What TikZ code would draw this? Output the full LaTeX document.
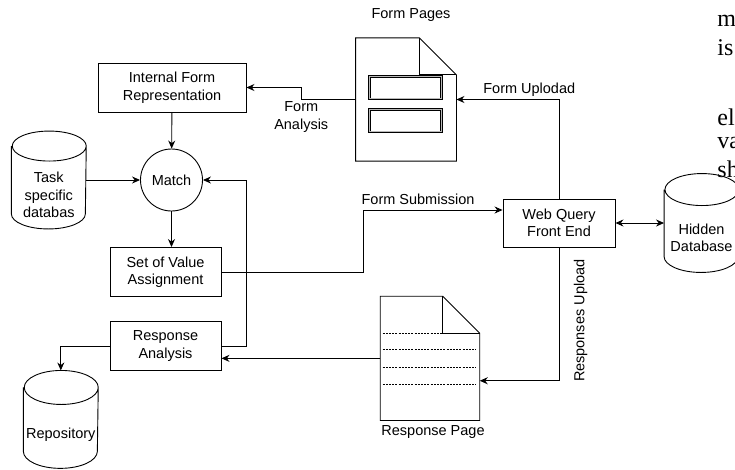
\documentclass[tikz,border=0pt]{standalone}
\usepackage{fontspec}
\setmainfont{Liberation Serif}
\setsansfont{Liberation Sans}
\usetikzlibrary{positioning, arrows.meta}

\newcommand{\diagfont}{\sffamily\fontsize{14.5}{17.5}\selectfont}

% cylinder outline round a node: node, x radius, y radius
\newcommand{\drawdb}[3]{%
  \draw ([yshift=-#3pt]#1.north west) -- ([yshift=#3pt]#1.south west)
    arc[start angle=180, end angle=360, x radius=#2, y radius=#3]
    -- ([yshift=-#3pt]#1.north east)
    arc[start angle=0, end angle=180, x radius=#2, y radius=#3]
    arc[start angle=180, end angle=360, x radius=#2, y radius=#3];
}
% page with folded corner round a node: node, fold
\newcommand{\drawpage}[2]{%
  \draw (#1.south west) -- (#1.north west) -- ([xshift=-#2pt]#1.north east)
    -- ([yshift=-#2pt]#1.north east) -- (#1.south east) -- cycle;
  \draw ([xshift=-#2pt]#1.north east) |- ([yshift=-#2pt]#1.north east);
}

\begin{document}
\begin{tikzpicture}[
    x=1pt, y=1pt,
    >={Stealth[length=8pt, width=7pt]},
    line width=0.9pt,
    box/.style={draw, minimum width=111pt, minimum height=49pt, inner sep=0pt,
                font=\diagfont, align=center},
    dbase/.style={minimum width=74pt, minimum height=97pt, inner sep=0pt},
    page/.style={minimum width=100pt, inner sep=0pt},
    field/.style={draw, double=gray!55, double distance=1.1pt, line width=0.7pt,
                  fill=white, minimum width=72pt, minimum height=22.5pt, inner sep=0pt},
    annot/.style={font=\diagfont, inner sep=0pt, align=center},
    bleed/.style={font=\rmfamily\fontsize{24}{28}\selectfont, inner sep=0pt, anchor=base west},
]
\useasboundingbox (0,0) rectangle (735,-469);

% Left column
\node[box, minimum width=148pt] (intform) at (172,-87.5) {Internal Form\\Representation};
\node[draw, circle, minimum size=62pt, inner sep=0pt, font=\diagfont] (match) at (171.5,-180) {Match};
\node[box] (valset) at (165.5,-272) {Set of Value\\Assignment};
\node[box] (respan) at (165.5,-346.2) {Response\\Analysis};

% Databases
\node[dbase, label={[annot, yshift=-15pt]center:Task\\specific\\databas}] (taskdb) at (48.8,-180) {};
\node[dbase, minimum height=98pt, label={[annot, yshift=-15pt]center:Hidden\\Database}] (hidden) at (701.5,-223) {};
\node[dbase, minimum height=97pt, label={[annot, yshift=-15.6pt]center:Repository}] (repo) at (60.8,-419.4) {};
\drawdb{taskdb}{37}{15}
\drawdb{hidden}{37}{16}
\drawdb{repo}{37}{17}

% Front end
\node[box, minimum width=112pt, minimum height=48pt] (webq) at (559,-223) {Web Query\\Front End};

% Pages
\node[page, minimum height=122.4pt] (formdoc) at (406,-99.5) {};
\node[page, minimum width=98.6pt, minimum height=123.3pt] (respdoc) at (430,-358.35) {};
\drawpage{formdoc}{37}
\drawpage{respdoc}{37}
\node[field] (fielda) at (405.5,-87.5) {};
\node[field] (fieldb) at (405.5,-120.5) {};
\draw[line width=0.7pt, dash pattern=on 2pt off 1.2pt]
    ([xshift=2.3pt, yshift=-36.6pt]respdoc.north west) -- ++(59,0);
\foreach \dy in {53.3, 70.6, 88.3}
  \draw[line width=0.7pt, dash pattern=on 2pt off 1.2pt]
    ([xshift=2.3pt, yshift=-\dy pt]respdoc.north west) -- ++(93.7,0);

\node[annot] (pageslbl) at (411,-15) {Form Pages};
\node[annot] (resplbl) at (433,-432) {Response Page};

% Connectors
\draw[->] (intform) -- (match);
\draw[->] (taskdb) -- (match);
\draw[->] (match) -- (match |- valset.north);
\draw[->] (formdoc.west) -- ++(-54.3,0) node[annot, below=2pt] {Form\\Analysis} |- (intform.east);
\draw[->] (webq.north) |- (formdoc.east) node[annot, pos=0.645, above=3pt] {Form Uplodad};
\draw[->] (valset.east) -- ++(141.7,0) |- ([yshift=13pt]webq.west)
    node[annot, pos=0.5, anchor=south west, xshift=-2pt, yshift=5pt] {Form Submission};
\draw[<->] (webq.east) -- (hidden.west);
\draw[->] (webq.south) |- ([yshift=-22.4pt]respdoc.east);
\node[annot, rotate=90] (uplbl) at (580.7,-320.7) {Responses Upload};
\draw[->] (respdoc.west) -- (respdoc.west -| respan.east);
\draw[->] (respan.east) -- ++(25,0) |- (match.east);
\draw[->] (respan.west) -| (repo.north);

% text of the page beside the figure
\foreach \t/\y [count=\i] in {m/26, is/55, el/125, va/148, sh/177}
  \node[bleed] (bleed\i) at (717,-\y) {\t};

\end{tikzpicture}
\end{document}
